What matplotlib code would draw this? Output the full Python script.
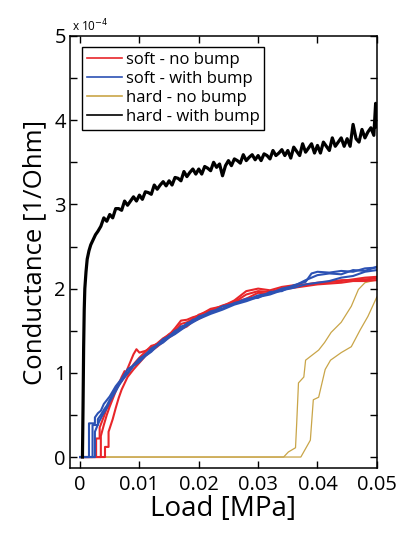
"""Conductance vs load for soft/hard pads with and without bump."""

import matplotlib.pyplot as plt

plt.rcParams["font.family"] = ["Open Sans", "DejaVu Sans"]

# conductance values in units of 1e-4 1/Ohm, load in MPa
soft_nobump_x = [
    [0, 0.0027, 0.0027, 0.0033, 0.0033, 0.004, 0.0045, 0.005, 0.0055, 0.006,
     0.007, 0.008, 0.009, 0.0095, 0.010, 0.011, 0.012, 0.013, 0.014, 0.015,
     0.016, 0.017, 0.018, 0.019, 0.020, 0.022, 0.024, 0.026, 0.028, 0.030,
     0.032, 0.034, 0.036, 0.038, 0.040, 0.042, 0.044, 0.046, 0.048, 0.050],
    [0, 0.0042, 0.0042, 0.0048, 0.0048, 0.0055, 0.006, 0.0065, 0.007, 0.008,
     0.009, 0.010, 0.011, 0.012, 0.013, 0.014, 0.015, 0.016, 0.017, 0.018,
     0.019, 0.020, 0.022, 0.024, 0.026, 0.028, 0.030, 0.032, 0.034, 0.036,
     0.038, 0.040, 0.042, 0.044, 0.046, 0.048, 0.050],
    [0, 0.0035, 0.0035, 0.004, 0.0045, 0.005, 0.006, 0.007, 0.0075, 0.008,
     0.009, 0.010, 0.011, 0.012, 0.013, 0.014, 0.015, 0.016, 0.017, 0.018,
     0.019, 0.020, 0.022, 0.024, 0.026, 0.028, 0.030, 0.032, 0.034, 0.036,
     0.038, 0.040, 0.042, 0.044, 0.046, 0.048, 0.050],
]
soft_nobump_y = [
    [0, 0, 0.22, 0.22, 0.35, 0.48, 0.58, 0.62, 0.75, 0.82,
     0.90, 1.05, 1.22, 1.28, 1.24, 1.26, 1.30, 1.35, 1.41, 1.45,
     1.53, 1.62, 1.63, 1.66, 1.68, 1.76, 1.79, 1.86, 1.97, 2.00,
     1.98, 2.02, 2.04, 2.05, 2.07, 2.08, 2.10, 2.10, 2.11, 2.12],
    [0, 0, 0.12, 0.12, 0.30, 0.45, 0.58, 0.70, 0.80, 0.95,
     1.04, 1.12, 1.20, 1.26, 1.31, 1.37, 1.42, 1.47, 1.52, 1.55,
     1.61, 1.64, 1.72, 1.76, 1.84, 1.88, 1.95, 1.94, 1.99, 2.01,
     2.03, 2.05, 2.06, 2.07, 2.09, 2.09, 2.10],
    [0, 0, 0.25, 0.38, 0.50, 0.60, 0.78, 0.95, 1.02, 0.98,
     1.10, 1.18, 1.25, 1.32, 1.34, 1.40, 1.46, 1.50, 1.58, 1.60,
     1.64, 1.69, 1.74, 1.80, 1.84, 1.93, 1.97, 1.96, 2.00, 2.03,
     2.04, 2.06, 2.08, 2.09, 2.11, 2.13, 2.14],
]

soft_bump_x = [
    [0, 0.0015, 0.0015, 0.0025, 0.0025, 0.003, 0.0035, 0.004, 0.005, 0.006,
     0.007, 0.008, 0.009, 0.010, 0.011, 0.012, 0.013, 0.014, 0.015, 0.016,
     0.017, 0.018, 0.019, 0.020, 0.022, 0.024, 0.026, 0.028, 0.030, 0.032,
     0.034, 0.036, 0.038, 0.039, 0.040, 0.042, 0.044, 0.046, 0.048, 0.050],
    [0, 0.0021, 0.0021, 0.003, 0.003, 0.0035, 0.004, 0.0045, 0.005, 0.006,
     0.007, 0.008, 0.009, 0.010, 0.011, 0.012, 0.013, 0.014, 0.015, 0.016,
     0.017, 0.018, 0.019, 0.020, 0.022, 0.024, 0.026, 0.028, 0.030, 0.032,
     0.034, 0.036, 0.038, 0.040, 0.042, 0.044, 0.046, 0.048, 0.050],
    [0, 0.0025, 0.0025, 0.0032, 0.0038, 0.0045, 0.005, 0.006, 0.007, 0.008,
     0.009, 0.010, 0.011, 0.012, 0.013, 0.014, 0.015, 0.016, 0.017, 0.018,
     0.019, 0.020, 0.022, 0.024, 0.026, 0.028, 0.030, 0.032, 0.034, 0.036,
     0.038, 0.040, 0.042, 0.044, 0.046, 0.048, 0.050],
]
soft_bump_y = [
    [0, 0, 0.40, 0.40, 0.47, 0.52, 0.55, 0.63, 0.72, 0.84,
     0.93, 1.04, 1.09, 1.17, 1.21, 1.29, 1.33, 1.40, 1.43, 1.50,
     1.52, 1.59, 1.61, 1.67, 1.71, 1.79, 1.82, 1.88, 1.89, 1.96,
     1.97, 2.04, 2.08, 2.18, 2.20, 2.19, 2.21, 2.20, 2.24, 2.25],
    [0, 0, 0.38, 0.38, 0.45, 0.50, 0.56, 0.61, 0.68, 0.80,
     0.90, 0.99, 1.08, 1.13, 1.20, 1.25, 1.32, 1.36, 1.42, 1.46,
     1.51, 1.56, 1.60, 1.64, 1.70, 1.75, 1.81, 1.85, 1.90, 1.93,
     1.98, 2.01, 2.05, 2.07, 2.09, 2.13, 2.15, 2.20, 2.22],
    [0, 0, 0.30, 0.42, 0.50, 0.58, 0.66, 0.78, 0.91, 1.00,
     1.09, 1.15, 1.22, 1.27, 1.33, 1.38, 1.44, 1.48, 1.55, 1.57,
     1.63, 1.65, 1.73, 1.76, 1.83, 1.86, 1.92, 1.94, 2.00, 2.03,
     2.10, 2.16, 2.18, 2.17, 2.22, 2.21, 2.26],
]

hard_nobump_x = [
    [0, 0.0343, 0.0351, 0.0363, 0.0365, 0.0368, 0.0377, 0.0380, 0.0402,
     0.0412, 0.0423, 0.0440, 0.0457, 0.0469, 0.0480, 0.0497],
    [0, 0.0372, 0.0388, 0.0393, 0.0402, 0.0413, 0.0422, 0.0440, 0.0457,
     0.0472, 0.0485, 0.0500],
]
hard_nobump_y = [
    [0, 0, 0.06, 0.11, 0.40, 0.88, 0.95, 1.15, 1.27,
     1.36, 1.48, 1.60, 1.79, 1.99, 2.07, 2.10],
    [0, 0, 0.20, 0.68, 0.71, 1.04, 1.15, 1.24, 1.31,
     1.51, 1.67, 1.90],
]

hard_bump_x = [
    0.0004, 0.0005, 0.0006, 0.0007, 0.0008, 0.0010, 0.0012, 0.0015, 0.0018,
    0.0022, 0.0026, 0.0030, 0.0035,
    0.0040, 0.0045, 0.0050, 0.0055, 0.0060, 0.0065, 0.0070, 0.0075, 0.0080,
    0.0085, 0.0090, 0.0095, 0.0100, 0.0105, 0.0110, 0.0115, 0.0120, 0.0125,
    0.0130, 0.0135, 0.0140, 0.0145, 0.0150, 0.0155, 0.0160, 0.0165, 0.0170,
    0.0175, 0.0180, 0.0185, 0.0190, 0.0195, 0.0200, 0.0205, 0.0210, 0.0215,
    0.0220, 0.0225, 0.0230, 0.0235, 0.0240, 0.0245, 0.0250, 0.0255, 0.0260,
    0.0265, 0.0270, 0.0275, 0.0280, 0.0285, 0.0290, 0.0295, 0.0300, 0.0305,
    0.0310, 0.0315, 0.0320, 0.0325, 0.0330, 0.0335, 0.0340, 0.0345, 0.0350,
    0.0355, 0.0360, 0.0365, 0.0370, 0.0375, 0.0380, 0.0385, 0.0390, 0.0395,
    0.0400, 0.0405, 0.0410, 0.0415, 0.0420, 0.0425, 0.0430, 0.0435, 0.0440,
    0.0445, 0.0450, 0.0455, 0.0460, 0.0465, 0.0470, 0.0475, 0.0480, 0.0485,
    0.0490, 0.0495, 0.0498, 0.0500,
]
hard_bump_y = [
    0.0, 0.6, 1.3, 1.75, 2.0, 2.2, 2.35, 2.45, 2.52,
    2.58, 2.64, 2.68, 2.74,
    2.84, 2.80, 2.88, 2.84, 2.95, 2.95, 2.93, 3.04, 2.99,
    3.04, 3.09, 3.04, 3.11, 3.06, 3.15, 3.14, 3.12, 3.23,
    3.18, 3.23, 3.27, 3.22, 3.28, 3.23, 3.32, 3.31, 3.28,
    3.39, 3.33, 3.38, 3.42, 3.36, 3.42, 3.36, 3.45, 3.43,
    3.40, 3.50, 3.44, 3.48, 3.34, 3.46, 3.52, 3.46, 3.54,
    3.52, 3.49, 3.59, 3.52, 3.56, 3.59, 3.53, 3.58, 3.52,
    3.60, 3.58, 3.54, 3.64, 3.58, 3.61, 3.65, 3.58, 3.64,
    3.55, 3.68, 3.63, 3.58, 3.72, 3.62, 3.67, 3.72, 3.61,
    3.70, 3.61, 3.74, 3.69, 3.64, 3.79, 3.69, 3.74, 3.79,
    3.69, 3.78, 3.69, 3.95, 3.78, 3.74, 3.89, 3.79, 3.86,
    3.91, 3.82, 4.20, 3.92,
]

labels = ["soft - no bump", "soft - with bump", "hard - no bump", "hard - with bump"]
colors = ["#e8262a", "#2c52b4", "#c9a548", "black"]

fig = plt.figure(figsize=(3.99, 5.33), dpi=100)
ax = fig.add_axes([0.1754, 0.122, 0.769, 0.8105])

for xs, ys in zip(hard_nobump_x, hard_nobump_y):
    ax.plot(xs, ys, color=colors[2], lw=0.9)
for xs, ys in zip(soft_nobump_x, soft_nobump_y):
    ax.plot(xs, ys, color=colors[0], lw=1.5)
for xs, ys in zip(soft_bump_x, soft_bump_y):
    ax.plot(xs, ys, color=colors[1], lw=1.5)
ax.plot(hard_bump_x, hard_bump_y, color=colors[3], lw=2.3)

# legend proxies
handles = [plt.Line2D([], [], color=c, lw=1.2) for c in colors]
leg = ax.legend(handles, labels, loc="upper left", bbox_to_anchor=(0.04, 0.975),
                fontsize=12, handlelength=2.1, handletextpad=0.2,
                labelspacing=0.18, borderpad=0.3, borderaxespad=0,
                fancybox=False, framealpha=1)
leg.get_frame().set_edgecolor("black")
leg.get_frame().set_linewidth(1.0)

ax.set_xlim(-0.0017, 0.05)
ax.set_ylim(-0.13, 5)
ax.set_xticks([0, 0.01, 0.02, 0.03, 0.04, 0.05])
ax.set_xticklabels(["0", "0.01", "0.02", "0.03", "0.04", "0.05"])
ax.set_yticks([0, 1, 2, 3, 4, 5])
ax.set_yticks([0.5, 1.5, 2.5, 3.5, 4.5], minor=True)
ax.tick_params(which="both", direction="in", top=True, right=True,
               length=5, width=1.0, labelsize=14.5)
ax.tick_params(axis="x", pad=5)
ax.tick_params(axis="y", pad=3)
for s in ax.spines.values():
    s.set_linewidth(1.1)

ax.text(0.005, 1.005, r"x 10$^{-4}$", transform=ax.transAxes, fontsize=8.5,
        ha="left", va="bottom")
ax.set_xlabel("Load [MPa]", fontsize=20, labelpad=0)
ax.set_ylabel("Conductance [1/Ohm]", fontsize=18.5, labelpad=5)

fig.savefig("out.png", dpi=100)
